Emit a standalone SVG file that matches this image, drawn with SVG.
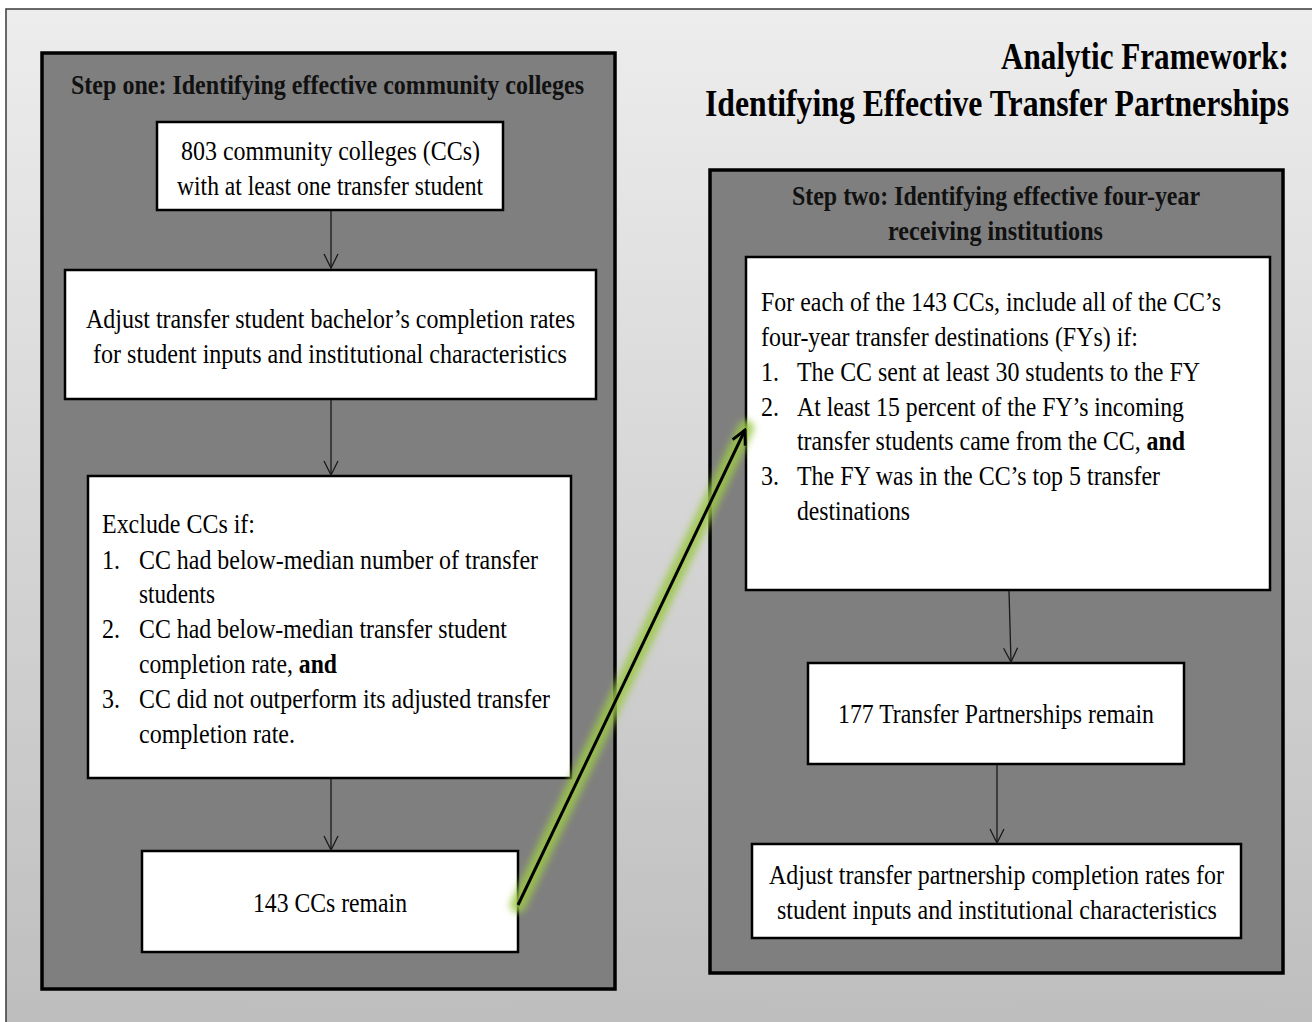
<svg xmlns="http://www.w3.org/2000/svg" width="1312" height="1022" viewBox="0 0 1312 1022">
<defs>
<linearGradient id="bg" x1="0" y1="0" x2="0" y2="1">
<stop offset="0" stop-color="#ededed"/>
<stop offset="1" stop-color="#bdbdbd"/>
</linearGradient>
<marker id="arr" markerUnits="userSpaceOnUse" viewBox="-16 -9 18 18" markerWidth="18" markerHeight="18" refX="0" refY="0" orient="auto">
<path d="M-14,-7 L0,0 L-14,7" fill="none" stroke="#1a1a1a" stroke-width="1.3"/>
</marker>
<marker id="arrBig" markerUnits="userSpaceOnUse" viewBox="-18 -10 20 20" markerWidth="20" markerHeight="20" refX="0" refY="0" orient="auto">
<path d="M-14,-7 L0,0 L-14,7" fill="none" stroke="#000" stroke-width="3"/>
</marker>
<filter id="glow" x="-20%" y="-20%" width="140%" height="140%">
<feGaussianBlur stdDeviation="3.5"/>
</filter>
<style>
.panel{fill:#7f7f7f;stroke:#000;stroke-width:3.5}
.box{fill:#fff;stroke:#000;stroke-width:2.5}
text{font-family:"Liberation Serif","Times New Roman",serif;fill:#000}
.t{font-size:27px}
.b{font-weight:bold}
.h{font-size:27px;font-weight:bold;fill:#111}
.title{font-size:38px;font-weight:bold;text-anchor:end}
.con{stroke:#1a1a1a;stroke-width:1.3;fill:none}
</style>
</defs>
<rect x="0" y="0" width="1312" height="1022" fill="#fff"/>
<rect x="6" y="9" width="1320" height="1030" fill="url(#bg)" stroke="#3a3a3a" stroke-width="1.5"/>

<g id="title">
<text class="title" x="1289" y="69" textLength="288" lengthAdjust="spacingAndGlyphs">Analytic Framework:</text>
<text class="title" x="1289" y="116" textLength="584" lengthAdjust="spacingAndGlyphs">Identifying Effective Transfer  Partnerships</text>
</g>

<g id="step-one">
<rect class="panel" x="42" y="53" width="573" height="936"/>
<text class="h" x="71" y="94" textLength="513" lengthAdjust="spacingAndGlyphs">Step one: Identifying  effective community  colleges</text>
</g>

<g id="step-two">
<rect class="panel" x="710" y="170" width="573" height="803"/>
<text class="h" x="792" y="205" textLength="408" lengthAdjust="spacingAndGlyphs">Step two: Identifying  effective four-year</text>
<text class="h" x="888" y="240" textLength="215" lengthAdjust="spacingAndGlyphs">receiving  institutions</text>
</g>

<g id="box1">
<rect class="box" x="157" y="122" width="346" height="88"/>
<text class="t" x="181" y="160" textLength="299" lengthAdjust="spacingAndGlyphs">803 community  colleges (CCs)</text>
<text class="t" x="177" y="195" textLength="306" lengthAdjust="spacingAndGlyphs">with at least one transfer student</text>
</g>

<g id="box2">
<rect class="box" x="65" y="270" width="531" height="129"/>
<text class="t" x="86" y="328" textLength="489" lengthAdjust="spacingAndGlyphs">Adjust transfer student bachelor’s completion rates</text>
<text class="t" x="93" y="363" textLength="474" lengthAdjust="spacingAndGlyphs">for student inputs and institutional  characteristics</text>
</g>

<g id="box3">
<rect class="box" x="88" y="476" width="483" height="302"/>
<text class="t" x="102" y="533" textLength="153" lengthAdjust="spacingAndGlyphs">Exclude CCs if:</text>
<text class="t" x="102" y="569" textLength="18" lengthAdjust="spacingAndGlyphs">1.</text>
<text class="t" x="139" y="569" textLength="399" lengthAdjust="spacingAndGlyphs">CC had below-median number  of transfer</text>
<text class="t" x="139" y="603" textLength="76" lengthAdjust="spacingAndGlyphs">students</text>
<text class="t" x="102" y="638" textLength="18" lengthAdjust="spacingAndGlyphs">2.</text>
<text class="t" x="139" y="638" textLength="368" lengthAdjust="spacingAndGlyphs">CC had below-median transfer student</text>
<text class="t" x="139" y="673" textLength="198" lengthAdjust="spacingAndGlyphs">completion rate, <tspan class="b">and</tspan></text>
<text class="t" x="102" y="708" textLength="18" lengthAdjust="spacingAndGlyphs">3.</text>
<text class="t" x="139" y="708" textLength="411" lengthAdjust="spacingAndGlyphs">CC did not outperform  its adjusted transfer</text>
<text class="t" x="139" y="743" textLength="156" lengthAdjust="spacingAndGlyphs">completion rate.</text>
</g>

<g id="box4">
<rect class="box" x="142" y="851" width="376" height="101"/>
<text class="t" x="253" y="912" textLength="154" lengthAdjust="spacingAndGlyphs">143 CCs remain</text>
</g>

<g id="box5">
<rect class="box" x="746" y="257" width="524" height="333"/>
<text class="t" x="761" y="311" textLength="460" lengthAdjust="spacingAndGlyphs">For each of the 143 CCs, include all of the CC’s</text>
<text class="t" x="761" y="346" textLength="377" lengthAdjust="spacingAndGlyphs">four-year transfer destinations (FYs) if:</text>
<text class="t" x="761" y="381" textLength="18" lengthAdjust="spacingAndGlyphs">1.</text>
<text class="t" x="797" y="381" textLength="403" lengthAdjust="spacingAndGlyphs">The CC sent at least 30 students  to the FY</text>
<text class="t" x="761" y="416" textLength="18" lengthAdjust="spacingAndGlyphs">2.</text>
<text class="t" x="797" y="416" textLength="387" lengthAdjust="spacingAndGlyphs">At least 15 percent of the FY’s incoming</text>
<text class="t" x="797" y="450" textLength="388" lengthAdjust="spacingAndGlyphs">transfer students  came from the CC, <tspan class="b">and</tspan></text>
<text class="t" x="761" y="485" textLength="18" lengthAdjust="spacingAndGlyphs">3.</text>
<text class="t" x="797" y="485" textLength="363" lengthAdjust="spacingAndGlyphs">The FY was in the CC’s top 5 transfer</text>
<text class="t" x="797" y="520" textLength="113" lengthAdjust="spacingAndGlyphs">destinations</text>
</g>

<g id="box6">
<rect class="box" x="808" y="663" width="376" height="101"/>
<text class="t" x="838" y="723" textLength="316" lengthAdjust="spacingAndGlyphs">177 Transfer Partnerships remain</text>
</g>

<g id="box7">
<rect class="box" x="752" y="844" width="489" height="94"/>
<text class="t" x="769" y="884" textLength="455" lengthAdjust="spacingAndGlyphs">Adjust transfer partnership completion rates for</text>
<text class="t" x="777" y="919" textLength="440" lengthAdjust="spacingAndGlyphs">student inputs and institutional  characteristics</text>
</g>

<g id="connectors">
<line class="con" x1="331" y1="211" x2="331" y2="268" marker-end="url(#arr)"/>
<line class="con" x1="331" y1="400" x2="331" y2="475" marker-end="url(#arr)"/>
<line class="con" x1="331" y1="779" x2="331" y2="850" marker-end="url(#arr)"/>
<line class="con" x1="1009" y1="591" x2="1011" y2="662" marker-end="url(#arr)"/>
<line class="con" x1="997" y1="765" x2="997" y2="843" marker-end="url(#arr)"/>
<line x1="518" y1="905" x2="746" y2="428" stroke="#9cc848" stroke-width="16" stroke-opacity="0.85" stroke-linecap="round" filter="url(#glow)"/>
<line x1="518" y1="905" x2="745" y2="430" stroke="#000" stroke-width="3" marker-end="url(#arrBig)"/>
</g>
</svg>
